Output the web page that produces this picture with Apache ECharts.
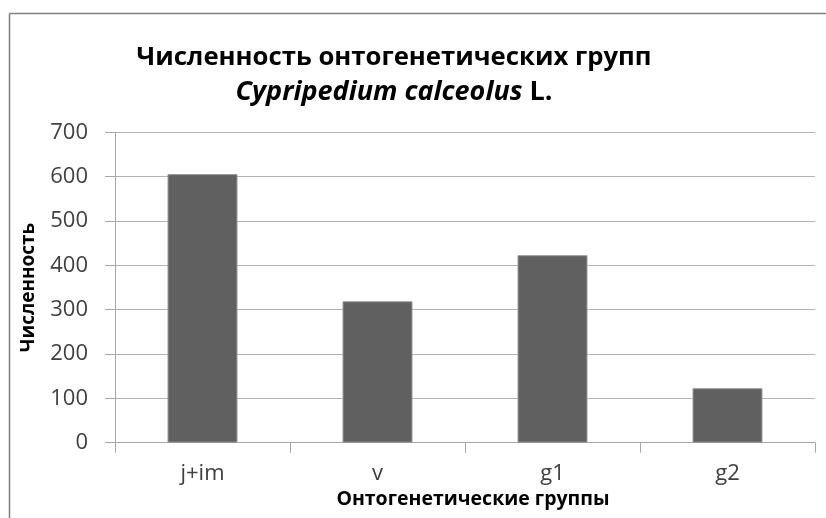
<!DOCTYPE html>
<html>
<head>
<meta charset="utf-8">
<script src="https://cdn.jsdelivr.net/npm/echarts@6/dist/echarts.min.js"></script>
<style>html,body{margin:0;padding:0;background:#fff;}#c{width:826px;height:518px;}</style>
</head>
<body>
<div id="c"></div>
<script>
const categories = ['j+im', 'v', 'g1', 'g2'];
const values = [606, 319, 423, 123];
const yTicks = [0, 100, 200, 300, 400, 500, 600, 700];

const chart = echarts.init(document.getElementById('c'));
const FONT = '"Open Sans", sans-serif';
chart.setOption({
  animation: false,
  title: {
    text: '{a|Численность онтогенетических групп}\n{b|Cypripedium calceolus}{c| L.}',
    left: 389, top: 35, textAlign: 'center',
    textStyle: {
      rich: {
        a: { fontFamily: FONT, fontWeight: 'bold', fontSize: 25.7, color: '#000', lineHeight: 35 },
        b: { fontFamily: FONT, fontStyle: 'italic', fontSize: 27, color: '#000', lineHeight: 35 },
        c: { fontFamily: FONT, fontWeight: 'bold', fontSize: 27, color: '#000', lineHeight: 35 }
      }
    }
  },
  grid: { left: 115, right: 11, top: 132.4, bottom: 75.3 },
  xAxis: {
    type: 'category', data: categories,
    name: 'Онтогенетические группы', nameLocation: 'middle', nameGap: 46,
    nameTextStyle: { fontFamily: FONT, fontWeight: 'bold', fontSize: 19.5, color: '#000', padding: [0, 0, 0, 16] },
    axisLine: { lineStyle: { color: '#a6a6a6', width: 1 } },
    axisTick: { show: true, length: 10, lineStyle: { color: '#a6a6a6' } },
    axisLabel: { fontFamily: FONT, fontSize: 22, color: '#404040', margin: 20 }
  },
  yAxis: {
    type: 'value', min: 0, max: 700, interval: 100,
    name: 'Численность', nameLocation: 'middle', nameGap: 77, nameRotate: 90,
    nameTextStyle: { fontFamily: FONT, fontWeight: 'bold', fontSize: 19, color: '#000' },
    axisLine: { show: true, lineStyle: { color: '#a6a6a6', width: 1 } },
    axisTick: { show: true, length: 10, lineStyle: { color: '#a6a6a6' } },
    axisLabel: { fontFamily: FONT, fontSize: 22, color: '#404040', margin: 27,
      formatter: v => yTicks.includes(v) ? String(v) : '' },
    splitLine: { show: true, lineStyle: { color: '#b3b3b3', width: 1 } }
  },
  series: [{
    type: 'bar', data: values, barCategoryGap: '60%',
    itemStyle: { color: '#606060', borderColor: '#9a9a9a', borderWidth: 1 }
  }],
  graphic: [
    { type: 'line', shape: { x1: 9.5, y1: 13.5, x2: 826, y2: 13.5 }, style: { stroke: '#808080', lineWidth: 1.5 } },
    { type: 'line', shape: { x1: 9.5, y1: 13.5, x2: 9.5, y2: 518 }, style: { stroke: '#808080', lineWidth: 1.5 } }
  ]
});
</script>
</body>
</html>
